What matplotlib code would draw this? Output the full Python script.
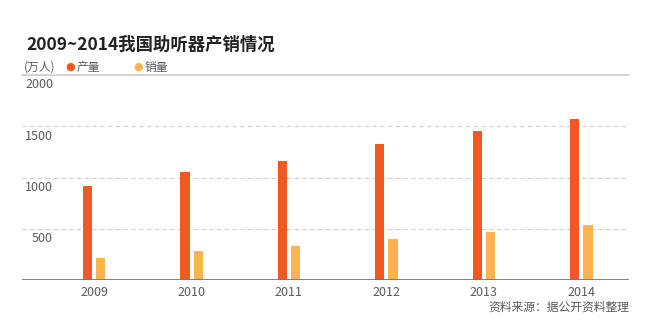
import matplotlib
matplotlib.use('Agg')
import matplotlib.pyplot as plt
import matplotlib.transforms as mtransforms
import numpy as np

plt.rcParams['font.family'] = ['Noto Sans CJK SC', 'DejaVu Sans']

years = ['2009', '2010', '2011', '2012', '2013', '2014']
production = [918, 1052, 1159, 1328, 1458, 1572]
sales = [218, 283, 332, 400, 469, 534]
yticks = [500, 1000, 1500, 2000]

c_prod = '#F05A22'
c_sales = '#FDB44E'
c_text = '#5a5a5a'

fig = plt.figure(figsize=(6.51, 3.31), dpi=100)
ax = fig.add_axes([22 / 651, 1 - 280 / 331, (629 - 22) / 651, (280 - 75) / 331])

x = np.arange(len(years))
w = 0.095
ax.bar(x - 0.068, production, width=w, color=c_prod, zorder=3)
ax.bar(x + 0.068, sales, width=w, color=c_sales, zorder=3)

ax.set_xlim(-0.74, 5.49)
ax.set_ylim(0, 2000)

# gridlines: dashed for the inner ones, solid line on top
for v in yticks[:-1]:
    ax.axhline(v, color='#cfcfcf', lw=0.8, ls=(0, (4, 3)), zorder=1)
ax.axhline(2000, color='#cccccc', lw=1.2, zorder=1, clip_on=False)
ax.axhline(0, color='#777777', lw=1.3, zorder=4)

shift = mtransforms.ScaledTranslation(0, -2.5 / 72, fig.dpi_scale_trans)
for v in yticks:
    ax.text(31 / 607, v, str(v), transform=ax.get_yaxis_transform() + shift,
            ha='right', va='top', fontsize=9, color=c_text)

ax.set_xticks(x)
ax.set_xticklabels(years, fontsize=9, color=c_text)
ax.tick_params(axis='x', length=0, pad=4)
ax.set_yticks([])
for s in ax.spines.values():
    s.set_visible(False)

# title, legend row and source note
fig.text(26 / 651, 1 - 45 / 331, '2009~2014我国助听器产销情况', fontsize=12.5,
         fontweight='bold', color='#222222', va='center', ha='left')
fig.text(24 / 651, 1 - 67 / 331, '(万人)', fontsize=8.5, color=c_text, va='center')
fig.text(70 / 651, 1 - 67 / 331, '●', fontsize=8, color=c_prod, va='center', ha='center',
         family=['DejaVu Sans'])
fig.text(77 / 651, 1 - 67 / 331, '产量', fontsize=8.5, color=c_text, va='center')
fig.text(138 / 651, 1 - 67 / 331, '●', fontsize=8, color=c_sales, va='center', ha='center',
         family=['DejaVu Sans'])
fig.text(145 / 651, 1 - 67 / 331, '销量', fontsize=8.5, color=c_text, va='center')
fig.text(629 / 651, 1 - 307 / 331, '资料来源：据公开资料整理', fontsize=8.5, color=c_text,
         va='center', ha='right')

fig.savefig('out.png', dpi=100, facecolor='white')
